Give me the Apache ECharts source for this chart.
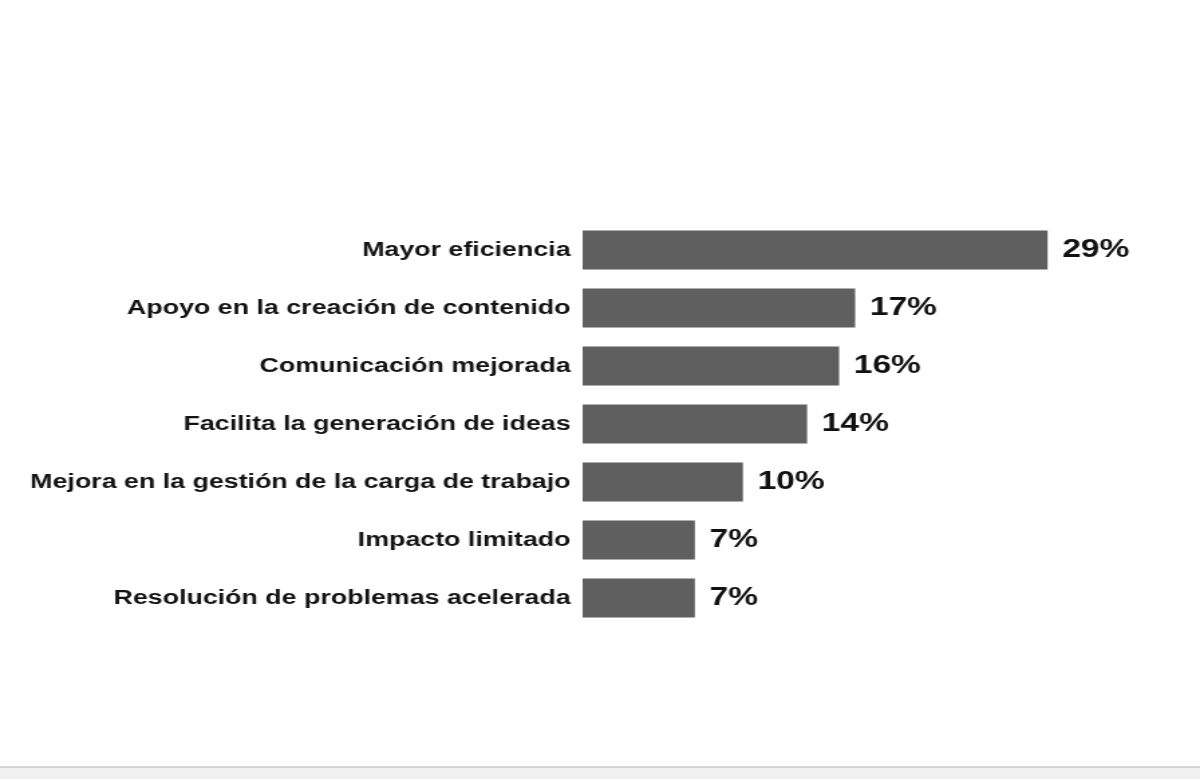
<!DOCTYPE html>
<html>
<head>
<meta charset="utf-8">
<script src="https://cdn.jsdelivr.net/npm/echarts@6/dist/echarts.min.js"></script>
<style>
  html, body { margin: 0; padding: 0; background: #fff; overflow: hidden; }
  /* la imagen original esta estirada en horizontal, se dibuja a 896px y se escala a 1200px */
  #chart { width: 896px; height: 779px; transform: scaleX(1.3393); transform-origin: 0 0; }
</style>
</head>
<body>
<div id="chart"></div>
<script>
// categorias de arriba a abajo
let categorias = [
  'Mayor eficiencia',
  'Apoyo en la creación de contenido',
  'Comunicación mejorada',
  'Facilita la generación de ideas',
  'Mejora en la gestión de la carga de trabajo',
  'Impacto limitado',
  'Resolución de problemas acelerada'
]
let valores = [29, 17, 16, 14, 10, 7, 7]

let myChart = echarts.init(document.getElementById('chart'))
let option = {
  backgroundColor: '#fff',
  animation: false,
  grid: {
    left: 435,
    top: 221,
    width: 419,
    height: 406
  },
  xAxis: {
    type: 'value',
    min: 0,
    max: 35,
    show: false
  },
  yAxis: {
    type: 'category',
    inverse: true,
    data: categorias,
    axisLine: { show: false },
    axisTick: { show: false },
    axisLabel: {
      margin: 9,
      color: '#141414',
      fontFamily: 'Liberation Sans, Arial, sans-serif',
      fontWeight: 'bold',
      fontSize: 20,
      padding: [8, 0, 0, 0]
    }
  },
  series: [
    {
      type: 'bar',
      data: valores,
      barCategoryGap: '33%',
      itemStyle: { color: '#5f5f5f' },
      label: {
        show: true,
        position: 'right',
        distance: 11,
        formatter: '{c}%',
        color: '#111',
        fontFamily: 'Liberation Sans, Arial, sans-serif',
        fontWeight: 'bold',
        fontSize: 25,
        padding: [2, 0, 0, 0]
      }
    }
  ],
  graphic: [
    {
      type: 'rect',
      shape: { x: -1, y: 767, width: 900, height: 14 },
      style: { fill: '#f0f0f0', stroke: '#b4b4b4', lineWidth: 1 },
      silent: true
    }
  ]
}
myChart.setOption(option)
</script>
</body>
</html>
